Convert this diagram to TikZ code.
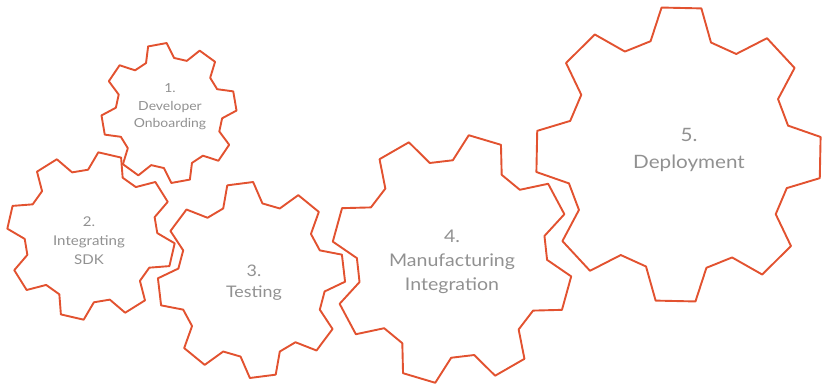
\documentclass[tikz,border=0pt]{standalone}
\usepackage{fontspec}
\setmainfont{Lato}[FakeStretch=1.12]
\definecolor{cogred}{RGB}{226,82,48}
\definecolor{cogtext}{RGB}{145,145,145}
% #1 centre, #2 outer radius, #3 phase of the first tooth, #4 xscale
\newcommand{\cog}[4]{%
  \draw[cog,shift={#1},xscale=#4] ({#3-15.5}:0.79*#2)
    \foreach \k in {0,...,7}{
      -- ({#3+45*\k-15.5}:0.79*#2) -- ({#3+45*\k-8}:#2)
      -- ({#3+45*\k+8}:#2) -- ({#3+45*\k+15.5}:0.79*#2)
    } -- cycle;}
\begin{document}
\begin{tikzpicture}[x=1bp,y=1bp]
        \tikzstyle{cog}=[draw=cogred,line width=1.9bp,line join=round]
        \tikzstyle{label}=[text=cogtext,align=center,inner sep=0pt]
        \useasboundingbox (0,0) rectangle (824,390);
        % outlines
        \cog{(169,277)}{70}{10}{0.965}
        \cog{(91,154)}{84}{32}{1}
        \cog{(251.5,110)}{98}{7}{0.955}
        \cog{(452,131)}{125}{29}{0.963}
        \cog{(678.5,235.5)}{148}{-1.2}{0.967}
        % labels
        \node [label,font=\fontsize{12.5}{17.5}\selectfont] (g1) at (170,283) {1.\\Developer\\Onboarding};
        \node [label,font=\fontsize{13.5}{19}\selectfont] (g2) at (89,149) {2.\\Integrating\\SDK};
        \node [label,font=\fontsize{16}{21}\selectfont] (g3) at (254,107) {3.\\Testing};
        \node [label,font=\fontsize{17.5}{24}\selectfont] (g4) at (452,128) {4.\\Manufacturing\\Integration};
        \node [label,font=\fontsize{18.5}{27}\selectfont] (g5) at (689,240) {5.\\Deployment};
\end{tikzpicture}
\end{document}
